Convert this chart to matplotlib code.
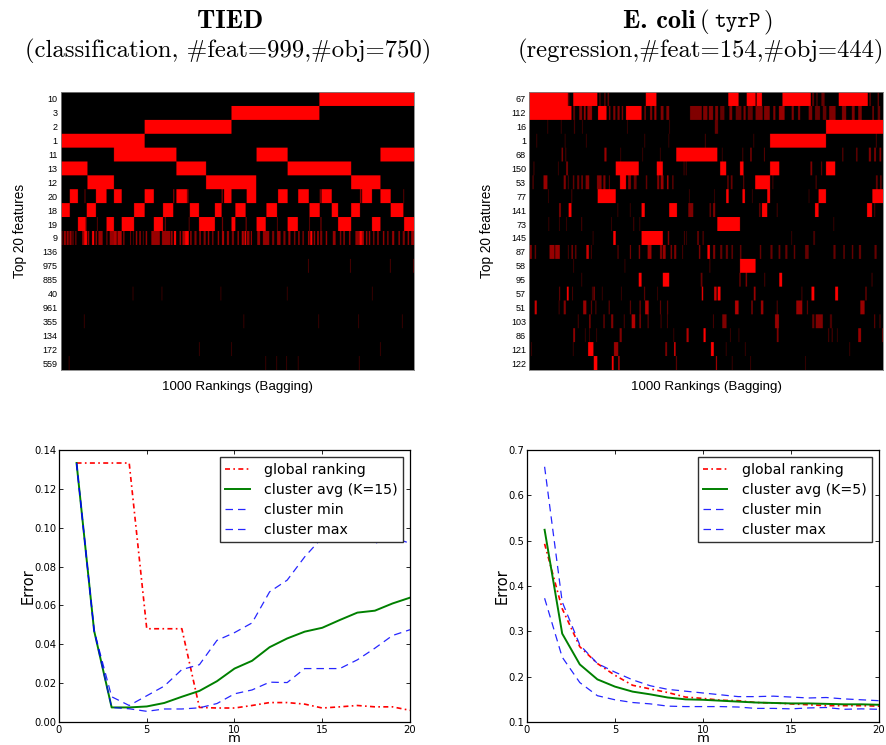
import matplotlib
matplotlib.use('Agg')
import matplotlib.pyplot as plt
from matplotlib.colors import LinearSegmentedColormap
import numpy as np

# heatmap rows, top to bottom: (first rank, last rank, brightness)
tied_labels = ['10', '3', '2', '1', '11', '13', '12', '20', '18', '19', '9',
               '136', '975', '885', '40', '961', '355', '134', '172', '559']
tied_rows = [
    [(732, 1000, 1)],
    [(483, 732, 1)],
    [(237, 483, 1)],
    [(0, 237, 1)],
    [(150, 327, 1), (554, 642, 1), (905, 1000, 1)],
    [(0, 75, 1), (327, 411, 1), (642, 822, 1)],
    [(75, 150, 1), (411, 553, 1), (822, 905, 1)],
    [(25, 48, 1), (67, 69, .6), (99, 129, 1), (150, 172, 1), (237, 263, 1), (318, 321, .6),
     (327, 357, 1), (358, 361, .6), (455, 458, .6), (462, 483, 1), (526, 553, 1), (615, 642, 1),
     (672, 702, 1), (733, 736, .6), (738, 767, 1), (847, 851, .6), (853, 881, 1), (905, 934, 1),
     (970, 972, .5)],
    [(0, 25, 1), (73, 99, 1), (207, 237, 1), (289, 318, 1), (365, 391, 1), (436, 455, 1),
     (494, 523, 1), (582, 612, 1), (704, 733, 1), (767, 785, 1), (822, 847, 1), (934, 970, 1)],
    [(48, 70, 1), (71, 73, .5), (102, 104, .5), (129, 150, 1), (172, 207, 1), (263, 289, 1),
     (294, 297, .5), (362, 364, .5), (391, 436, 1), (456, 459, .5), (483, 494, 1), (523, 526, .5),
     (554, 580, 1), (612, 614, .5), (642, 671, 1), (703, 705, .5), (735, 738, .5), (785, 822, 1),
     (881, 905, 1), (972, 1000, 1)],
    [(0, 4, .6), (8, 14, .6), (16, 22, .6), (24, 30, .6), (32, 36, .4), (40, 44, .4), (60, 66, .6),
     (66, 74, 1), (76, 80, .6), (88, 94, 1), (98, 102, .6), (106, 118, .6), (128, 132, .4),
     (138, 150, .6), (150, 158, .7), (160, 172, .7), (176, 180, .5), (196, 198, .6), (204, 206, .4),
     (212, 216, .6), (222, 226, .6), (232, 234, .5), (240, 244, .6), (256, 262, .6), (262, 280, .6),
     (286, 290, .6), (290, 310, .6), (312, 316, .7), (320, 326, 1), (336, 340, .6), (344, 352, .7),
     (352, 362, 1), (366, 370, .6), (378, 384, .5), (392, 396, .6), (404, 410, .5), (416, 420, .6),
     (428, 432, .5), (444, 448, .6), (456, 462, .7), (470, 476, .6), (484, 490, .5), (500, 504, .6),
     (512, 518, .7), (520, 524, 1), (526, 534, .6), (538, 540, 1), (556, 564, .6), (572, 590, .6),
     (598, 604, .5), (612, 622, .6), (630, 636, .5), (644, 650, .6), (660, 664, .5), (672, 676, .6),
     (684, 688, .5), (700, 704, .7), (706, 712, 1), (716, 720, .6), (726, 730, .7), (734, 740, .5),
     (750, 754, .6), (770, 778, .6), (790, 794, .5), (800, 804, .6), (816, 820, .6), (834, 846, .6),
     (846, 852, 1), (852, 858, .7), (864, 868, .6), (872, 876, .6), (884, 888, .5), (896, 900, .6),
     (912, 916, .6), (924, 928, .5), (938, 944, .6), (956, 960, .6), (968, 974, .5), (982, 986, .6),
     (992, 1000, .6)],
    [],
    [(700, 702, .4), (819, 821, .4), (932, 934, .4), (998, 1000, .4)],
    [],
    [(203, 205, .3), (285, 287, .3), (452, 454, .3), (640, 642, .3), (881, 883, .3)],
    [],
    [(65, 67, .3), (517, 519, .3), (729, 731, .3), (842, 844, .3), (966, 968, .3)],
    [],
    [(391, 393, .3), (482, 484, .3), (904, 906, .3)],
    [(22, 24, .3), (579, 581, .3), (610, 612, .3), (638, 640, .3), (671, 673, .3), (844, 846, .3)],
]

ecoli_labels = ['67', '112', '16', '1', '68', '150', '53', '77', '141', '73', '145',
                '87', '58', '95', '57', '51', '103', '86', '121', '122']
ecoli_rows = [
    [(0, 110, 1), (111, 114, .4), (125, 193, 1), (199, 202, .4), (213, 216, .5), (222, 226, .4),
     (330, 360, 1), (563, 592, 1), (615, 640, 1), (643, 658, 1), (716, 796, 1), (800, 805, .4),
     (812, 815, .4), (826, 835, .4), (875, 957, 1), (962, 965, .5), (985, 988, .5)],
    [(0, 120, 1), (125, 130, .4), (142, 150, .5), (155, 160, .6), (165, 178, .6), (195, 219, 1),
     (226, 230, .5), (238, 244, .5), (250, 256, .5), (262, 266, .5), (274, 318, 1), (326, 330, .5),
     (342, 348, .5), (354, 360, .6), (372, 380, .5), (388, 396, .5), (455, 488, .5), (492, 504, .5),
     (508, 520, .5), (526, 534, .5), (540, 552, .4), (566, 574, .5), (584, 600, .4), (606, 612, .5),
     (618, 632, .4), (640, 660, .5), (664, 680, .5), (690, 696, .5), (706, 722, .6), (742, 748, .5),
     (760, 766, .5), (790, 800, .5), (808, 822, .4), (830, 840, .4), (848, 866, .5), (884, 896, .5),
     (912, 920, .5), (930, 940, .5), (970, 974, .5), (985, 992, .4)],
    [(52, 54, .3), (90, 92, .3), (127, 130, .3), (150, 152, .3), (277, 279, .3), (396, 398, .3),
     (525, 534, .4), (839, 1000, 1)],
    [(21, 23, .3), (101, 103, .3), (161, 163, .3), (326, 328, .3), (394, 396, .3), (497, 499, .4),
     (634, 636, .3), (681, 839, 1), (980, 982, .4)],
    [(92, 96, .5), (103, 105, .4), (213, 219, .6), (258, 260, .3), (320, 322, .3), (370, 372, .3),
     (416, 532, 1), (545, 547, .3), (603, 605, .4), (625, 629, .5), (664, 666, .5), (885, 888, .4),
     (924, 928, .4), (960, 966, .5), (975, 980, .5), (990, 995, .5)],
    [(13, 15, .4), (82, 84, .3), (105, 110, .5), (245, 310, 1), (361, 378, 1), (437, 439, .4),
     (443, 445, .4), (540, 557, 1), (596, 606, 1), (681, 707, 1), (795, 800, .5), (825, 828, .4),
     (839, 865, 1)],
    [(10, 13, .4), (41, 52, .6), (98, 104, .5), (110, 112, .4), (124, 128, .4), (136, 142, .4),
     (148, 152, .5), (160, 170, .5), (192, 205, .5), (210, 216, .5), (226, 228, .5), (257, 274, 1),
     (280, 288, .5), (296, 304, .4), (330, 334, .4), (362, 368, .5), (372, 380, .6), (390, 394, .7),
     (405, 408, .5), (560, 564, .4), (570, 575, .4), (605, 608, .4), (639, 681, 1), (688, 690, .4),
     (810, 812, .5), (980, 985, .4), (992, 996, .4)],
    [(54, 56, .3), (120, 122, .4), (194, 245, 1), (452, 454, .3), (523, 525, .3), (557, 564, 1),
     (603, 610, 1), (630, 632, .3), (673, 681, 1), (790, 792, .3), (818, 839, 1), (970, 1000, 1)],
    [(85, 90, .5), (112, 120, 1), (250, 252, .3), (285, 287, .3), (318, 327, 1), (396, 418, 1),
     (450, 464, .5), (510, 514, .4), (520, 526, .5), (650, 654, .4), (658, 673, 1), (700, 702, .4),
     (808, 818, 1), (955, 969, 1), (975, 978, .3)],
    [(55, 57, .3), (85, 87, .3), (105, 107, .3), (148, 150, .4), (232, 234, .3), (295, 297, .4),
     (312, 314, .3), (532, 596, 1), (860, 862, .3)],
    [(180, 182, .3), (238, 245, 1), (318, 378, 1), (392, 396, .5), (438, 440, .4), (444, 446, .3),
     (475, 480, .4), (490, 494, .3), (741, 743, .3), (803, 808, .3)],
    [(0, 8, .5), (16, 20, .4), (58, 72, .6), (74, 87, .6), (110, 112, .4), (120, 124, .5),
     (130, 134, .4), (162, 169, .8), (175, 177, .4), (250, 253, .4), (285, 288, .5), (310, 314, .5),
     (335, 346, .6), (370, 376, .5), (378, 386, .6), (400, 404, .5), (410, 416, .5), (433, 435, .4),
     (480, 484, .5), (504, 511, 1), (520, 526, .5), (540, 546, .4), (556, 562, .4), (572, 576, .4),
     (596, 600, .4), (652, 656, .4), (682, 688, .4), (705, 710, .4), (724, 730, .4), (748, 752, .4),
     (780, 790, .4), (860, 866, .4), (888, 892, .4), (912, 916, .4), (932, 938, .4), (976, 982, .4)],
    [(125, 127, .3), (270, 272, .3), (510, 512, .4), (596, 640, 1)],
    [(148, 150, .3), (310, 318, 1), (378, 396, 1), (485, 490, .4), (594, 598, .4), (612, 616, .5),
     (665, 667, .4), (707, 715, 1), (968, 970, .4)],
    [(85, 88, .4), (107, 112, 1), (122, 124, .4), (178, 180, .4), (182, 186, .5), (206, 208, .3),
     (260, 262, .3), (325, 328, .4), (362, 364, .3), (488, 492, .9), (523, 530, .8), (533, 541, 1),
     (635, 640, .6), (770, 772, .4), (798, 806, 1), (865, 873, 1), (950, 954, .4)],
    [(16, 22, .8), (84, 86, .4), (98, 104, .5), (153, 162, .6), (175, 178, .4), (188, 190, .5),
     (225, 228, .4), (285, 288, .4), (312, 316, .4), (328, 338, .7), (370, 373, .4), (390, 393, .4),
     (582, 592, .7), (628, 632, .5), (655, 662, .6), (700, 702, .5), (755, 772, .6), (785, 788, .4),
     (936, 948, .6)],
    [(138, 140, .4), (170, 174, .5), (210, 214, .4), (232, 238, .5), (268, 270, .4), (290, 300, .7),
     (312, 316, .5), (335, 338, .4), (372, 374, .4), (390, 392, .4), (520, 522, .4), (546, 558, .5),
     (695, 706, .6), (800, 806, .4), (810, 830, .5), (850, 856, .3), (975, 978, .4), (990, 993, .3)],
    [(125, 130, .6), (158, 160, .3), (170, 172, .3), (190, 192, .3), (256, 262, .5), (408, 410, .3),
     (445, 451, .7), (493, 499, 1), (568, 570, .3), (592, 594, .3), (700, 705, .5), (845, 848, .3),
     (855, 858, .3), (870, 872, .3), (930, 938, .6), (998, 1000, .5)],
    [(6, 8, .3), (124, 126, .3), (167, 182, 1), (240, 252, .6), (385, 390, .5), (410, 414, .9),
     (514, 522, 1), (556, 558, .3), (610, 612, .3), (905, 907, .3)],
    [(183, 193, 1), (234, 239, 1), (252, 256, .7), (415, 418, .4), (528, 531, .7), (573, 575, .3),
     (625, 627, .3), (780, 782, .3)],
]

m = np.arange(1, 21)

tied_global = [.1333, .1333, .1333, .1333, .048, .048, .048, .0075, .0072, .0072,
               .0085, .010, .010, .0092, .0072, .0078, .0085, .0078, .0078, .006]
tied_avg = [.1333, .047, .0075, .0075, .008, .0098, .013, .016, .021, .0275,
            .0315, .0385, .043, .0465, .0485, .0525, .0563, .0573, .061, .064]
tied_min = [.1333, .047, .0075, .0068, .0055, .0067, .0067, .0073, .0095, .0145,
            .0165, .0205, .0203, .0275, .0275, .0275, .032, .038, .0445, .0475]
tied_max = [.1333, .047, .013, .0085, .0135, .0185, .027, .0295, .042, .046,
            .051, .067, .073, .085, .095, .095, .095, .092, .095, .092]

ecoli_global = [.493, .35, .266, .229, .203, .181, .173, .165, .155, .152,
                .148, .147, .143, .142, .14, .138, .136, .136, .136, .135]
ecoli_avg = [.524, .295, .227, .194, .178, .167, .161, .154, .150, .149,
             .147, .145, .143, .142, .141, .141, .140, .139, .139, .138]
ecoli_min = [.373, .243, .187, .158, .149, .143, .140, .135, .134, .134,
             .134, .133, .130, .130, .129, .131, .132, .128, .129, .128]
ecoli_max = [.663, .365, .27, .229, .21, .193, .18, .172, .168, .164,
             .16, .156, .156, .157, .155, .153, .154, .151, .149, .147]

W, H = 887.0, 745.0
black_red = LinearSegmentedColormap.from_list('black_red', ['black', 'red'])


def px_axes(fig, left, top, right, bottom):
    return fig.add_axes([left / W, 1 - bottom / H, (right - left) / W, (bottom - top) / H])


def heatmap(ax, rows, labels, ylabelpad):
    grid = np.zeros((len(rows), 1000))
    for i, spans in enumerate(rows):
        for start, end, level in spans:
            grid[i, start:end] = level
    # repeat the rows so only the rank axis gets smoothed
    grid = np.repeat(grid, 14, axis=0)
    ax.imshow(grid, aspect='auto', cmap=black_red, vmin=0, vmax=1,
              interpolation='antialiased', extent=(0, 1000, len(rows), 0))
    ax.set_xticks([])
    ax.set_yticks(np.arange(len(labels)) + 0.5)
    ax.set_yticklabels(labels, fontsize=6.5, family='Liberation Sans')
    ax.tick_params(axis='y', length=0, pad=2.5)
    ax.set_xlabel('1000 Rankings (Bagging)', fontsize=9.6, family='Liberation Sans', labelpad=8)
    ax.set_ylabel('Top 20 features', fontsize=9.8, family='Liberation Sans', labelpad=ylabelpad)
    for s in ax.spines.values():
        s.set_color('#808080')
        s.set_linewidth(0.6)


def errors(ax, glob, avg, low, high, k, ymin, ymax, yticks, yfmt, ylabelpad):
    ax.plot(m, glob, color='red', ls=(0, (3, 2, 1, 2)), lw=1.2, label='global ranking')
    ax.plot(m, avg, color='green', lw=1.4, label='cluster avg (K=%d)' % k)
    ax.plot(m, low, color='blue', ls=(0, (6, 4)), lw=0.9, alpha=0.85, label='cluster min')
    ax.plot(m, high, color='blue', ls=(0, (6, 4)), lw=0.9, alpha=0.85, label='cluster max')
    ax.set_xlim(0, 20)
    ax.set_ylim(ymin, ymax)
    ax.set_xticks([0, 5, 10, 15, 20])
    ax.set_yticks(yticks)
    ax.set_yticklabels([yfmt % v for v in yticks])
    ax.tick_params(direction='in', top=True, right=True, labelsize=7.2, length=3, width=0.6, pad=2)
    ax.set_xlabel('m', fontsize=9.5, labelpad=-2)
    ax.set_ylabel('Error', fontsize=10.5, labelpad=ylabelpad)
    ax.legend(loc='upper right', fontsize=10.2, fancybox=False, framealpha=1, edgecolor='#303030',
              handlelength=1.7, labelspacing=0.42, borderpad=0.4, handletextpad=1.0,
              bbox_to_anchor=(0.98, 0.974), borderaxespad=0)
    for s in ax.spines.values():
        s.set_linewidth(0.9)


fig = plt.figure(figsize=(8.87, 7.45), dpi=100)

fig.text(230 / W, 1 - 22 / H, 'TIED', ha='center', va='center', fontsize=19, family='cmb10')
fig.text(228.5 / W, 1 - 51 / H, '(classification, #feat=999,#obj=750)',
         ha='center', va='center', fontsize=17.8, family='cmr10')
fig.text(696 / W, 1 - 22 / H, 'E. coli', ha='right', va='center', fontsize=19, family='cmb10')
fig.text(709 / W, 1 - 22 / H, '(', ha='right', va='center', fontsize=18, family='cmr10')
fig.text(714 / W, 1 - 22 / H, 'tyrP', ha='left', va='center', fontsize=16, family='cmtt10')
fig.text(764 / W, 1 - 22 / H, ')', ha='left', va='center', fontsize=18, family='cmr10')
fig.text(701 / W, 1 - 51 / H, '(regression,#feat=154,#obj=444)',
         ha='center', va='center', fontsize=17.8, family='cmr10')

heatmap(px_axes(fig, 61, 92, 414, 370), tied_rows, tied_labels, 11)
heatmap(px_axes(fig, 529.5, 92, 883, 370), ecoli_rows, ecoli_labels, 12)

errors(px_axes(fig, 59, 450, 410, 722), tied_global, tied_avg, tied_min, tied_max, 15,
       0, 0.14, [0, .02, .04, .06, .08, .10, .12, .14], '%.2f', -1)
errors(px_axes(fig, 527, 450, 879, 722), ecoli_global, ecoli_avg, ecoli_min, ecoli_max, 5,
       0.1, 0.7, [.1, .2, .3, .4, .5, .6, .7], '%.1f', -1)

fig.savefig('out.png', dpi=100)
